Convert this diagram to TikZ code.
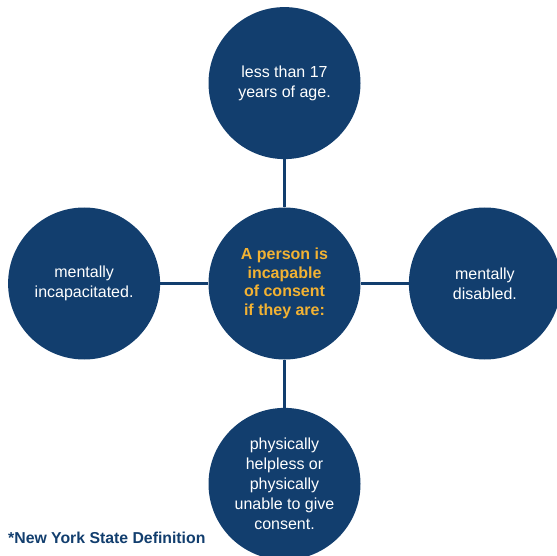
\documentclass[tikz,border=0pt]{standalone}
\usepackage{fontspec}
\setmainfont{Liberation Sans}
\usetikzlibrary{positioning}
\tikzset{enlace/.style={line width=2.6pt, draw=navyblue}}
\definecolor{navyblue}{RGB}{18,62,110}
\definecolor{goldtext}{RGB}{242,178,51}

\begin{document}
\begin{tikzpicture}[x=1pt, y=1pt, every node/.style={circle, fill=navyblue, minimum size=152pt, inner sep=0pt, align=center, text=white, font=\fontsize{16}{20}\selectfont}]
            \useasboundingbox (0,0) rectangle (557,-556);
            \node[text=goldtext, font=\bfseries\fontsize{16}{18.7}\selectfont] (centre) at (284.5,-283.5) {A person is\\incapable\\of consent\\if they are:};
            \node[above= 48pt of centre] (age) {less than 17\\years of age.};
            \node[left=  48pt of centre] (incap) {mentally\\incapacitated.};
            \node[right= 48pt of centre] (disab) {mentally\\disabled.};
            \node[below= 48pt of centre] (phys) {physically\\helpless or\\physically\\unable to give\\consent.};
            \node[rectangle, fill=none, minimum size=0pt, text=navyblue, anchor=west, font=\bfseries\fontsize{15.8}{18}\selectfont] (note) at (8,-538) {*New York State Definition};

            \draw[enlace] (centre) to (age);
            \draw[enlace] (centre) to (incap);
            \draw[enlace] (centre) to (disab);
            \draw[enlace] (centre) to (phys);
        \end{tikzpicture}
\end{document}
